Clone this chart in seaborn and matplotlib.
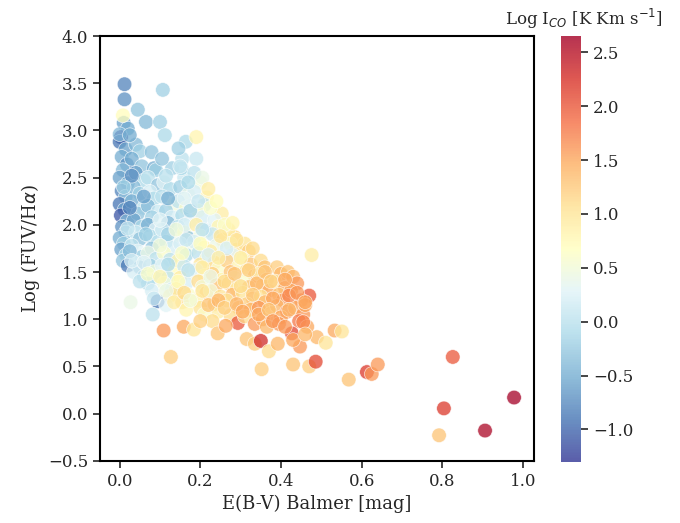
import numpy as np
import pandas as pd
import matplotlib
matplotlib.use("Agg")
import matplotlib.pyplot as plt
import seaborn as sns

# E(B-V) Balmer [mag]
ebv = [
    0.012, 0.012, 0.010, 0.020, 0.003, 0.000, 0.015, 0.005, 0.018, 0.008,
    0.000, 0.020, 0.005, 0.015, 0.000, 0.012, 0.003, 0.018, 0.006, 0.015,
    0.000, 0.010, 0.004, 0.016, 0.008, 0.020, 0.008, 0.000,
    0.045, 0.065, 0.040, 0.050, 0.030, 0.055, 0.040, 0.060, 0.035, 0.050,
    0.030, 0.060, 0.045, 0.035, 0.055, 0.040, 0.050, 0.030, 0.045, 0.055,
    0.040, 0.050, 0.035, 0.060,
    0.100, 0.079, 0.085, 0.090, 0.070, 0.095, 0.075, 0.085, 0.070, 0.095,
    0.080, 0.070, 0.090, 0.075, 0.095, 0.080, 0.070, 0.090, 0.075, 0.085,
    0.095, 0.070, 0.080, 0.094, 0.085, 0.027, 0.082,
    0.107, 0.112, 0.130, 0.110, 0.125, 0.105, 0.135, 0.115, 0.130, 0.120,
    0.105, 0.135, 0.115, 0.130, 0.110, 0.125, 0.105, 0.135, 0.120, 0.110,
    0.130, 0.125, 0.115, 0.127, 0.109,
    0.164, 0.155, 0.160, 0.150, 0.170, 0.145, 0.165, 0.155, 0.175, 0.145,
    0.160, 0.170, 0.150, 0.175, 0.165, 0.145, 0.160, 0.175, 0.150, 0.165,
    0.140, 0.170, 0.155, 0.165, 0.159, 0.153, 0.146, 0.161,
    0.190, 0.190, 0.200, 0.185, 0.216, 0.210, 0.195, 0.205, 0.190, 0.215,
    0.200, 0.185, 0.210, 0.195, 0.215, 0.200, 0.190, 0.210, 0.195, 0.205,
    0.215, 0.190, 0.200, 0.210, 0.184, 0.185, 0.175,
    0.253, 0.235, 0.245, 0.230, 0.255, 0.240, 0.225, 0.250, 0.235, 0.245,
    0.230, 0.255, 0.240, 0.225, 0.250, 0.235, 0.245, 0.230, 0.243,
    0.285, 0.270, 0.275, 0.290, 0.280, 0.265, 0.295, 0.275, 0.285, 0.270,
    0.290, 0.280, 0.265, 0.295, 0.275, 0.293, 0.263,
    0.310, 0.320, 0.305, 0.325, 0.315, 0.335, 0.310, 0.320, 0.305, 0.330,
    0.315, 0.325, 0.310, 0.335, 0.315, 0.335,
    0.350, 0.360, 0.345, 0.365, 0.355, 0.370, 0.350, 0.360, 0.345, 0.375,
    0.355, 0.365, 0.350, 0.370, 0.352,
    0.390, 0.400, 0.385, 0.410, 0.395, 0.405, 0.390, 0.415, 0.400, 0.395,
    0.392, 0.417,
    0.476, 0.430, 0.440, 0.425, 0.470, 0.450, 0.435, 0.455, 0.445, 0.465,
    0.427, 0.489, 0.511, 0.447, 0.430, 0.470, 0.486, 0.460,
    0.533, 0.551, 0.568, 0.613, 0.625, 0.640, 0.826, 0.804, 0.792, 0.906,
    0.978,
    0.025, 0.030, 0.010, 0.025, 0.020, 0.025, 0.030, 0.060, 0.065, 0.060,
    0.050, 0.070, 0.105, 0.115, 0.120, 0.100, 0.120, 0.100, 0.120, 0.100,
    0.115, 0.135, 0.150, 0.170, 0.160, 0.175, 0.140, 0.165, 0.155, 0.170,
    0.145, 0.160, 0.175, 0.205, 0.220, 0.195, 0.225, 0.205, 0.200, 0.220,
    0.205, 0.225, 0.205, 0.220, 0.200, 0.240, 0.260, 0.250, 0.265, 0.245,
    0.260, 0.245, 0.260, 0.280, 0.290, 0.300, 0.285, 0.300, 0.290, 0.305,
    0.330, 0.320, 0.340, 0.330, 0.345, 0.360, 0.375, 0.380, 0.370, 0.380,
    0.410, 0.420, 0.420, 0.410, 0.440, 0.460, 0.455, 0.430, 0.460,
]

# Log (FUV/Halpha)
log_fuv_ha = [
    3.49, 3.33, 3.08, 3.02, 2.93, 2.88, 2.80, 2.72, 2.64, 2.58,
    2.50, 2.44, 2.36, 2.30, 2.22, 2.16, 2.10, 2.04, 1.98, 1.92,
    1.86, 1.80, 1.74, 1.68, 1.62, 1.57, 3.16, 2.96,
    3.22, 3.09, 2.85, 2.78, 2.70, 2.62, 2.55, 2.47, 2.40, 2.33,
    2.25, 2.18, 2.12, 2.05, 1.98, 1.92, 1.85, 1.78, 1.72, 1.66,
    1.60, 1.55, 1.50, 1.45,
    3.09, 2.77, 2.60, 2.58, 2.50, 2.42, 2.35, 2.28, 2.20, 2.14,
    2.08, 2.00, 1.95, 1.88, 1.82, 1.75, 1.70, 1.64, 1.57, 1.50,
    1.44, 1.38, 1.30, 1.19, 1.22, 1.18, 1.05,
    3.43, 2.95, 2.60, 2.45, 2.38, 2.30, 2.22, 2.15, 2.08, 2.02,
    1.95, 1.88, 1.82, 1.76, 1.70, 1.63, 1.57, 1.50, 1.44, 1.38,
    1.32, 1.25, 1.15, 0.60, 0.88,
    2.88, 2.70, 2.50, 2.40, 2.32, 2.25, 2.18, 2.10, 2.04, 1.98,
    1.92, 1.86, 1.80, 1.74, 1.68, 1.62, 1.56, 1.50, 1.44, 1.38,
    1.32, 1.26, 1.18, 1.10, 0.92, 2.60, 2.81, 2.00,
    2.93, 2.70, 2.45, 2.35, 2.29, 2.21, 2.15, 2.08, 2.00, 1.94,
    1.88, 1.82, 1.76, 1.70, 1.64, 1.58, 1.52, 1.46, 1.40, 1.34,
    1.28, 1.20, 1.12, 1.05, 0.89, 2.55, 2.20,
    2.12, 2.05, 1.98, 1.90, 1.84, 1.78, 1.72, 1.66, 1.60, 1.54,
    1.48, 1.42, 1.36, 1.30, 1.24, 1.16, 1.08, 0.98, 0.85,
    1.87, 1.95, 1.80, 1.74, 1.68, 1.62, 1.56, 1.50, 1.44, 1.38,
    1.32, 1.26, 1.20, 1.12, 1.04, 0.96, 0.93,
    1.80, 1.72, 1.64, 1.58, 1.52, 1.46, 1.40, 1.34, 1.28, 1.22,
    1.16, 1.10, 1.03, 0.95, 0.79, 0.74,
    1.62, 1.55, 1.48, 1.42, 1.36, 1.30, 1.24, 1.18, 1.12, 1.06,
    1.00, 0.92, 0.77, 0.66, 0.47,
    1.55, 1.48, 1.40, 1.33, 1.26, 1.20, 1.14, 1.08, 1.02, 0.95,
    0.74, 1.50,
    1.68, 1.45, 1.38, 1.30, 1.25, 1.20, 1.12, 1.05, 0.98, 0.92,
    0.85, 0.81, 0.75, 0.71, 0.52, 0.50, 0.55, 1.15,
    0.88, 0.87, 0.36, 0.44, 0.42, 0.52, 0.60, 0.055, -0.23, -0.18,
    0.17,
    2.95, 2.52, 2.40, 2.18, 1.96, 1.72, 1.62, 2.30, 1.90, 1.60,
    1.40, 1.48, 2.70, 2.52, 2.28, 2.05, 1.90, 1.78, 1.58, 1.45,
    1.30, 1.18, 2.62, 2.45, 2.28, 2.15, 1.95, 1.84, 1.70, 1.52,
    1.40, 1.28, 1.20, 2.50, 2.38, 2.25, 2.18, 1.95, 1.80, 1.68,
    1.55, 1.45, 1.30, 1.15, 0.98, 2.25, 2.00, 1.88, 1.75, 1.65,
    1.40, 1.20, 1.12, 2.02, 1.84, 1.65, 1.48, 1.35, 1.16, 1.08,
    1.75, 1.52, 1.38, 1.26, 1.05, 1.50, 1.40, 1.22, 1.10, 0.98,
    1.42, 1.25, 1.10, 0.92, 1.28, 1.18, 0.97, 0.78, 0.84,
]

# Log I_CO [K Km s^-1]
log_ico = [
    -0.8, -0.7, -0.6, -0.5, -1.3, -0.9, -0.6, -0.5, -0.7, -0.4,
    -0.6, -0.5, -0.8, -0.3, -0.9, -0.6, -1.1, -0.4, -0.7, -0.3,
    -0.5, -0.2, -0.6, -0.1, -0.3, -0.9, 0.7, -0.4,
    -0.3, -0.4, -0.4, -0.2, -0.5, -0.3, -0.6, -0.1, -0.4, -0.2,
    -0.5, 0.0, -0.3, -0.6, -0.1, 0.1, -0.3, 0.0, 0.3, -0.2,
    0.1, -0.4, 0.2, 0.0,
    -0.2, -0.3, -0.5, -0.2, 0.0, -0.3, 0.2, -0.1, -0.4, 0.1,
    -0.2, -0.5, 0.3, -0.1, 0.0, -0.3, 0.4, 0.0, -0.2, 0.5,
    0.1, -0.1, 0.2, -0.9, 0.1, 0.4, 0.0,
    -0.2, -0.1, -0.2, 0.3, -0.1, 0.0, 0.5, -0.2, 0.2, -0.4,
    0.1, 0.4, -0.1, 0.2, 0.6, 0.0, 0.3, 0.7, 0.0, 0.5,
    0.2, 0.9, 0.3, 1.2, 1.6,
    -0.1, 0.0, 0.1, -0.2, 0.4, 0.0, 0.6, -0.1, 0.3, 0.0,
    0.7, -0.3, 0.2, 0.5, -0.1, 0.8, 0.1, 0.4, 0.9, 0.2,
    1.0, 0.6, 1.1, 0.8, 1.5, -0.1, -0.2, 0.2,
    0.8, 0.1, 0.5, 0.2, 0.8, 0.0, 0.6, 0.2, 0.9, 0.0,
    0.5, 0.2, 0.8, 0.0, 0.6, 1.0, 0.3, 0.7, 1.1, 0.5,
    1.2, 0.8, 1.0, 0.6, 1.0, 0.0, 0.3,
    0.9, 0.3, 0.8, 0.1, 1.0, 0.4, 0.9, 0.2, 1.1, 0.6,
    1.2, 0.8, 1.3, 0.5, 1.0, 1.2, 0.9, 1.1, 1.3,
    1.1, 0.9, 0.6, 1.0, 0.3, 1.2, 0.8, 1.3, 0.5, 1.2,
    0.9, 1.4, 1.0, 1.3, 1.1, 2.0, 1.5,
    1.0, 1.2, 0.7, 1.3, 1.0, 1.4, 0.6, 1.3, 1.0, 1.5,
    1.2, 1.4, 1.1, 1.6, 1.3, 1.2,
    1.1, 1.3, 0.9, 1.4, 1.2, 1.5, 1.0, 1.4, 1.6, 1.3,
    1.5, 1.4, 2.3, 1.1, 1.2,
    1.2, 1.4, 1.0, 1.5, 1.3, 1.6, 1.4, 1.7, 1.5, 1.6,
    1.4, 1.3,
    0.9, 1.4, 1.6, 1.5, 2.0, 1.7, 1.5, 1.6, 1.8, 1.5,
    2.1, 1.4, 1.0, 1.6, 1.3, 1.2, 2.1, 1.5,
    1.5, 1.0, 1.3, 2.2, 1.6, 1.6, 2.0, 2.2, 1.3, 2.6,
    2.65,
    -0.5, -0.7, -0.2, -0.8, 0.1, -0.4, 0.2, -0.6, -0.2, 0.3,
    0.0, 0.6, -0.3, 0.0, -0.5, 0.3, -0.2, 0.5, -0.1, 0.8,
    0.4, 0.9, 0.1, -0.1, 0.3, -0.2, 0.5, 0.1, 0.6, 0.0,
    0.7, 1.1, 0.5, 0.4, 0.9, 0.1, 0.6, 0.0, 0.7, 0.2,
    0.9, 0.4, 1.0, 1.3, 1.2, 0.7, 0.6, 1.0, 0.2, 0.9,
    1.1, 1.4, 1.2, 0.8, 1.0, 0.9, 1.3, 1.1, 1.4, 1.5,
    1.1, 1.2, 1.4, 1.2, 1.5, 1.3, 1.2, 1.5, 1.3, 1.6,
    1.5, 1.7, 1.4, 1.6, 1.6, 1.5, 1.7, 1.5, 1.4,
]

assert len(ebv) == len(log_fuv_ha) == len(log_ico)

df = pd.DataFrame({"ebv": ebv, "fuv": log_fuv_ha, "ico": log_ico})

sns.set_style("ticks")
plt.rcParams["font.family"] = ["DejaVu Serif"]
plt.rcParams["mathtext.fontset"] = "dejavusans"

fig = plt.figure(figsize=(6.8, 5.23), dpi=100)
ax = fig.add_axes([0.147, 0.119, 0.638, 0.812])
cax = fig.add_axes([0.825, 0.117, 0.030, 0.814])

cmap_name = "RdYlBu_r"
vmin, vmax = min(log_ico), max(log_ico)
sns.scatterplot(data=df, x="ebv", y="fuv", hue="ico", palette=cmap_name,
                hue_norm=(vmin, vmax), s=110, alpha=0.75, edgecolor="white",
                linewidth=0.5, legend=False, ax=ax)

ax.set_ylim(-0.5, 4.0)
ax.set_xlabel("E(B-V) Balmer [mag]", fontsize=13)
ax.set_ylabel(r"Log (FUV/H$\alpha$)", fontsize=13)
ax.tick_params(labelsize=12, length=5, width=1.2)
for sp in ax.spines.values():
    sp.set_linewidth(1.5)
    sp.set_color("black")

sm = plt.cm.ScalarMappable(cmap=cmap_name,
                           norm=plt.Normalize(vmin=vmin, vmax=vmax))
cbar = fig.colorbar(sm, cax=cax)
cbar.solids.set_alpha(0.8)
cbar.outline.set_visible(False)
cax.tick_params(labelsize=12, length=5, width=1.2)
t = cax.set_title(r"Log I$_{CO}$ [K Km s$^{-1}$]", fontsize=12, pad=8)
t.set_x(1.1)

fig.savefig("out.png", dpi=100)
